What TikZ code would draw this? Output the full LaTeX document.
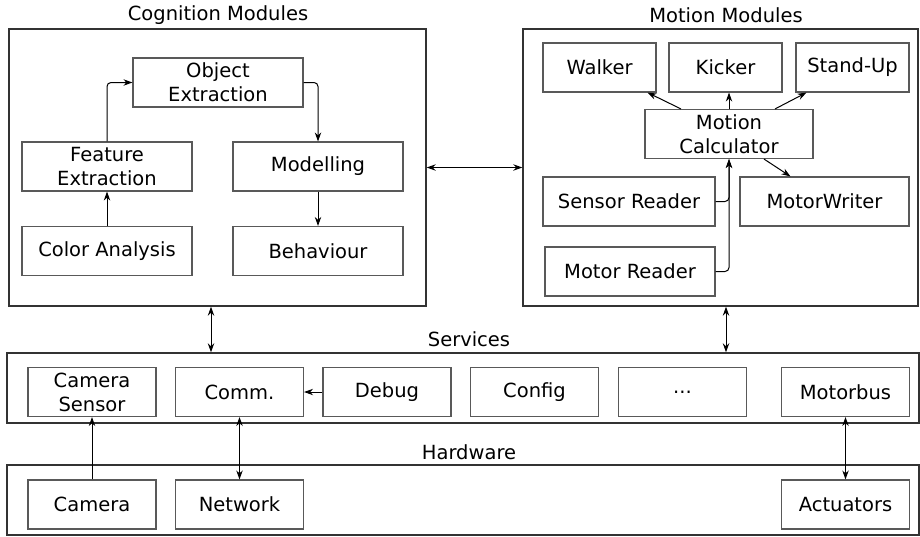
\documentclass[tikz,border=0pt]{standalone}
\usepackage{fontspec}
\setmainfont{DejaVu Sans}
\usetikzlibrary{arrows.meta}

\begin{document}
\begin{tikzpicture}[x=0.5pt,y=-0.5pt,
    font=\fontsize{9.75}{12}\selectfont,
    layer/.style={draw=black!80,line width=0.7pt,inner sep=0pt},
    module/.style={draw=black!65,line width=0.55pt,inner sep=0pt,minimum height=24.5pt,align=center},
    arr/.style={-{Stealth[length=4.5pt,width=3.2pt]},line width=0.5pt},
    dblarr/.style={{Stealth[length=4.5pt,width=3.2pt]}-{Stealth[length=4.5pt,width=3.2pt]},line width=0.5pt}]
        \useasboundingbox (0,0) rectangle (920,536);

        % layers
        \node[layer,minimum width=208.5pt,minimum height=138.5pt] (cog) at (217.5,167.5) {};
        \node[layer,minimum width=197.5pt,minimum height=138.5pt] (mot) at (720.5,167.5) {};
        \node[layer,minimum width=456pt,minimum height=35pt] (svc) at (463,388) {};
        \node[layer,minimum width=456pt,minimum height=35pt] (hw) at (463,500) {};

        \node (cogt) at (218,15) {Cognition Modules};
        \node (mott) at (726,15) {Motion Modules};
        \node (svct) at (469,339) {Services};
        \node (hwt) at (469,452) {Hardware};

        % cognition
        \node[module,minimum width=85pt] (obj) at (218,82.5) {Object\\Extraction};
        \node[module,minimum width=85pt] (feat) at (107,166.5) {Feature\\Extraction};
        \node[module,minimum width=85pt] (model) at (318,166.5) {Modelling};
        \node[module,minimum width=85pt] (color) at (107,251) {Color Analysis};
        \node[module,minimum width=85pt] (behav) at (318,251) {Behaviour};

        % motion
        \node[module,minimum width=56.5pt] (walk) at (599.5,67.5) {Walker};
        \node[module,minimum width=56.5pt] (kick) at (725.5,67.5) {Kicker};
        \node[module,minimum width=56.5pt] (stand) at (852.5,67.5) {Stand-Up};
        \node[module,minimum width=84pt] (calc) at (729,134) {Motion\\Calculator};
        \node[module,minimum width=86pt] (sread) at (629,201.5) {Sensor Reader};
        \node[module,minimum width=84.5pt] (mwrite) at (824.5,201.5) {MotorWriter};
        \node[module,minimum width=85pt] (mread) at (630,271.5) {Motor Reader};

        % services
        \node[module,minimum width=64pt] (camsens) at (92,392) {Camera\\Sensor};
        \node[module,minimum width=64pt] (comm) at (239.5,392) {Comm.};
        \node[module,minimum width=64pt] (debug) at (387,392) {Debug};
        \node[module,minimum width=64pt] (config) at (534.5,392) {Config};
        \node[module,minimum width=64pt] (etc) at (682.5,392) {...};
        \node[module,minimum width=64pt] (mbus) at (845.5,392) {Motorbus};

        % hardware
        \node[module,minimum width=64pt] (cam) at (92,504.5) {Camera};
        \node[module,minimum width=64pt] (net) at (239.5,504.5) {Network};
        \node[module,minimum width=64pt] (act) at (845.5,504.5) {Actuators};

        \draw[arr] (color) -- (feat);
        \draw[arr,rounded corners=2pt] (feat.north) |- (obj.west);
        \draw[arr,rounded corners=2pt] (obj.east) -| (model.north);
        \draw[arr] (model) -- (behav);

        \draw[arr] ([xshift=-24pt]calc.north) -- ([xshift=24pt]walk.south);
        \draw[arr] (calc.north) -- (calc.north |- kick.south);
        \draw[arr] ([xshift=23pt]calc.north) -- ([xshift=-23pt]stand.south);
        \draw[arr] ([xshift=17.5pt]calc.south) -- ([xshift=-17pt]mwrite.north);
        \draw[arr,rounded corners=2pt] (sread.east) -| (calc.south);
        \draw[arr,rounded corners=2pt] (mread.east) -| (calc.south);

        \draw[dblarr] (cog.east) -- (mot.west);
        \draw[dblarr] ([xshift=-3.25pt]cog.south) -- ([xshift=-3.25pt]cog.south |- svc.north);
        \draw[dblarr] ([xshift=2.75pt]mot.south) -- ([xshift=2.75pt]mot.south |- svc.north);

        \draw[arr] (debug) -- (comm);
        \draw[arr] (cam) -- (camsens);
        \draw[dblarr] (comm) -- (net);
        \draw[dblarr] (mbus) -- (act);
\end{tikzpicture}
\end{document}
